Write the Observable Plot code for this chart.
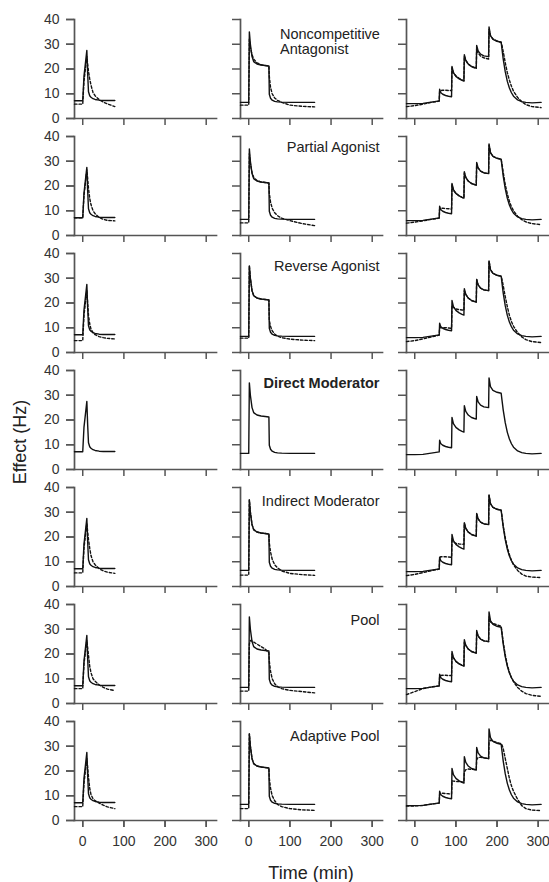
<!DOCTYPE html>
<html><head><meta charset="utf-8">
<script src="https://cdn.jsdelivr.net/npm/d3@7"></script>
<script src="https://cdn.jsdelivr.net/npm/@observablehq/plot@0.6"></script>
<style>
body{margin:0;background:#fff;}
#wrap{position:relative;width:549px;height:882px;font-family:"Liberation Sans",Arial,sans-serif;}
.ttl{position:absolute;font-size:18px;color:#222;white-space:nowrap;line-height:1;}
</style></head><body>
<div id="wrap"></div>
<script>
// Row (model) names; row 4 (Direct Moderator) has no dashed fit
const rowNames = ["Noncompetitive\nAntagonist","Partial Agonist","Reverse Agonist","Direct Moderator","Indirect Moderator","Pool","Adaptive Pool"];
const colKeys = [0, 1, 2];
const xTicks = [0, 100, 200, 300];
const yTicks = [0, 10, 20, 30, 40];

// Column 1 (single short pulse)
const T1 = [-20, 0, 3, 10, 12, 14, 17, 20, 25, 30, 40, 50, 60, 78];
const S1 = [7.2, 7.2, 17, 27.5, 18, 10.8, 9.2, 8.6, 8.0, 7.7, 7.4, 7.3, 7.3, 7.3];
const dashCol1 = [
  [5.8, 5.8, 15, 25, 22, 19, 16, 13.5, 10.5, 9.2, 7.6, 6.6, 5.9, 4.8],
  [7.2, 7.2, 16, 26.5, 23, 19, 15, 12.5, 10, 8.8, 7.3, 6.5, 6.1, 5.9],
  [4.8, 4.8, 15, 25, 20, 15, 11.5, 9.5, 8, 7.2, 6.4, 6, 5.7, 5.5],
  null,
  [5.5, 5.5, 15.5, 25.5, 22, 19, 15.5, 12.5, 10, 8.8, 7.2, 6.3, 5.8, 5.3],
  [6.0, 6.0, 16, 25.5, 22.5, 19.5, 15, 12.5, 10, 9.0, 7.5, 6.5, 5.8, 5.2],
  [5.6, 5.6, 15, 25, 21.5, 17.5, 13, 10.5, 8.8, 8.0, 7.0, 6.2, 5.5, 4.8]
];

// Column 2 (50-min step)
const T2 = [-20, 0, 1.5, 4, 8, 12, 20, 30, 40, 49, 50, 53, 57, 63, 70, 80, 100, 130, 160];
const S2 = [6.5, 6.5, 35, 30, 25, 23, 22, 21.6, 21.4, 21.2, 9.8, 8.2, 7.4, 6.9, 6.7, 6.6, 6.5, 6.5, 6.5];
const dashCol2 = [
  [5.4, 5.4, 32, 28.5, 25.8, 24, 22.5, 21.7, 21.4, 21.2, 17, 12.5, 10, 8.3, 7.3, 6.5, 5.4, 4.9, 4.7],
  [5.1, 5.1, 33, 29, 25.5, 23.5, 22.2, 21.6, 21.4, 21.2, 17, 13.5, 11, 9.2, 8, 7, 6, 4.8, 4.0],
  [5.8, 5.8, 35, 30, 25, 23, 22, 21.6, 21.4, 21.2, 13, 10.5, 8.8, 7.5, 6.6, 6, 5.4, 5, 4.8],
  null,
  [4.6, 4.6, 35, 30, 25, 23, 22, 21.6, 21.4, 21.2, 17.5, 14, 11, 8.8, 7.5, 6.3, 5.3, 4.8, 4.5],
  [5.0, 5.0, 24, 25.5, 25.2, 24.8, 24, 23, 22, 20.5, 17, 13, 10, 8, 6.8, 6, 5.3, 4.8, 4.3],
  [4.8, 4.8, 35, 30, 25, 23, 22, 21.6, 21.4, 21.2, 17, 13, 10, 8, 6.5, 5.6, 4.8, 4.3, 4.1]
];

// Column 3 (staircase of 5 steps)
const T3 = [-20, 0, 20, 40, 59.5, 60.5, 63, 68, 75, 82, 89.5, 90.5, 94, 100, 108, 115, 119.5, 120.5, 124, 130, 138, 145, 149.5, 150.5, 154, 160, 168, 179.5, 180.5, 184, 190, 200, 210, 212, 215, 220, 225, 230, 235, 240, 250, 260, 270, 285, 307];
const S3 = [6.0, 6.0, 6.1, 6.6, 7.1, 11.8, 10.5, 9.8, 9.3, 9.0, 8.8, 21.0, 18.5, 17.0, 16.0, 15.4, 15.1, 25.8, 23.5, 22.0, 21.0, 20.6, 20.4, 29.5, 27.3, 26.0, 25.3, 25.0, 37.0, 33.5, 32.0, 31.2, 30.8, 28.0, 24.0, 18.8, 15.0, 12.3, 10.4, 9.0, 7.5, 6.8, 6.5, 6.3, 6.5];
const dashCol3 = [
  [4.8, 5.2, 5.8, 6.5, 7.0, 11.0, 11.3, 11.4, 11.4, 11.3, 11.3, 20.5, 18.5, 17.2, 16.2, 15.6, 15.3, 25.2, 23.5, 22.0, 21.0, 20.5, 20.2, 28.5, 26.5, 25.2, 24.5, 24.0, 36.0, 33.5, 32.2, 31.3, 30.8, 29.5, 27.0, 22.5, 18.5, 15.5, 13.0, 11.0, 8.5, 6.8, 5.6, 4.8, 4.4],
  [5.0, 5.4, 5.9, 6.5, 7.0, 10.8, 11.0, 11.0, 10.9, 10.8, 10.7, 20.5, 18.3, 17.0, 16.0, 15.4, 15.1, 25.3, 23.5, 22.0, 21.0, 20.6, 20.4, 29.0, 27.3, 26.0, 25.3, 25.0, 36.5, 33.5, 32.0, 31.2, 30.8, 29.0, 25.5, 20.5, 16.8, 13.8, 11.6, 10.0, 7.8, 6.4, 5.5, 4.8, 4.4],
  [4.4, 4.8, 5.5, 6.3, 7.0, 10.0, 10.0, 10.0, 10.0, 9.9, 9.8, 19.0, 18.2, 17.6, 17.3, 17.2, 17.0, 25.0, 23.5, 22.0, 21.0, 20.6, 20.4, 29.5, 27.3, 26.0, 25.3, 25.0, 37.0, 33.5, 32.0, 31.2, 30.8, 29.5, 27.0, 22.5, 18.5, 15.0, 12.5, 10.6, 8.0, 6.3, 5.2, 4.4, 4.0],
  null,
  [4.4, 4.9, 5.6, 6.4, 7.0, 11.5, 12.0, 12.0, 12.0, 11.9, 11.8, 19.5, 18.0, 17.4, 17.2, 17.1, 17.0, 25.5, 23.5, 22.0, 21.0, 20.6, 20.4, 29.3, 27.3, 26.0, 25.3, 25.0, 36.8, 33.5, 32.0, 31.2, 30.8, 28.5, 24.6, 19.6, 15.9, 12.8, 10.5, 8.8, 6.5, 5.0, 4.2, 3.8, 3.6],
  [3.6, 4.8, 6.0, 6.7, 7.1, 11.0, 11.3, 11.4, 11.4, 11.3, 11.3, 20.0, 18.5, 17.0, 16.0, 15.5, 15.2, 24.8, 23.5, 22.0, 21.0, 20.6, 20.4, 28.8, 27.2, 26.0, 25.3, 25.0, 35.0, 33.0, 32.3, 31.8, 31.2, 28.8, 24.8, 19.6, 15.6, 12.6, 10.4, 8.8, 6.5, 5.0, 4.0, 3.3, 2.9],
  [5.8, 5.9, 6.1, 6.6, 7.0, 10.5, 11.0, 11.0, 10.9, 10.8, 10.7, 16.0, 15.9, 15.8, 15.7, 15.6, 15.5, 19.5, 20.5, 20.8, 20.7, 20.6, 20.5, 24.5, 25.5, 25.5, 25.3, 25.0, 31.5, 32.5, 32.0, 31.5, 31.0, 30.5, 29.0, 25.0, 21.0, 17.0, 14.0, 11.8, 8.5, 6.0, 4.8, 4.2, 4.0]
];

const times = [T1, T2, T3];
const solids = [S1, S2, S3];
const dashes = [dashCol1, dashCol2, dashCol3];

const modelRows = [];
const fitRows = [];
rowNames.forEach((row, r) => {
  colKeys.forEach(c => {
    times[c].forEach((t, i) => modelRows.push({row, col: c, t, v: solids[c][i]}));
    const d = dashes[c][r];
    if (d) times[c].forEach((t, i) => fitRows.push({row, col: c, t, v: d[i]}));
  });
});

const axisStroke = "#555";
const labelColor = "#222";
// per-panel label vertical offsets (px below the panel top)
const labelDy = [8, 4, 6, 6.5, 7.5, 9.5, 8.5];

const labelMarks = rowNames.map((name, i) => Plot.text([name], {
  text: d => d, fy: d => d, fx: () => 1,
  frameAnchor: i === 0 ? "top-left" : "top-right",
  textAnchor: i === 0 ? "start" : "end",
  lineAnchor: "top",
  dx: i === 0 ? 39.5 : -3,
  dy: labelDy[i],
  fontSize: 14.5,
  lineHeight: 1.08,
  fontWeight: i === 3 ? "bold" : "normal",
  fill: labelColor
}));

const chart = Plot.plot({
  width: 549,
  height: 882,
  marginTop: 16.7,
  marginBottom: 59,
  marginLeft: 73,
  marginRight: 0,
  style: {fontFamily: "'Liberation Sans', Arial, sans-serif", fontSize: "14px", color: "#333", background: "#fff"},
  fx: {domain: colKeys, paddingInner: 0.143, paddingOuter: 0, axis: null},
  fy: {domain: rowNames, paddingInner: 0.15, paddingOuter: 0, axis: null},
  x: {domain: [-20, 325]},
  y: {domain: [0, 40]},
  marks: [
    Plot.axisY({ticks: yTicks, tickSize: 8, tickFormat: () => "", facetAnchor: null, stroke: axisStroke, strokeWidth: 1.5, label: null}),
    Plot.axisY({ticks: yTicks, tickSize: 8, tickPadding: 7, facetAnchor: "left", stroke: axisStroke, strokeWidth: 1.5, label: null}),
    Plot.axisX({ticks: xTicks, tickSize: 7, tickFormat: () => "", facetAnchor: null, stroke: axisStroke, strokeWidth: 1.5, label: null}),
    Plot.axisX({ticks: xTicks, tickSize: 7, tickPadding: 9, facetAnchor: "bottom", stroke: axisStroke, strokeWidth: 1.5, label: null}),
    Plot.frame({anchor: "left", stroke: axisStroke, strokeWidth: 1.7}),
    Plot.frame({anchor: "bottom", stroke: axisStroke, strokeWidth: 1.7}),
    Plot.line(fitRows, {x: "t", y: "v", fx: "col", fy: "row", stroke: "#111", strokeWidth: 1.4, strokeDasharray: "2.5,2"}),
    Plot.line(modelRows, {x: "t", y: "v", fx: "col", fy: "row", stroke: "#111", strokeWidth: 1.4}),
    ...labelMarks
  ]
});

const wrap = document.getElementById("wrap");
wrap.appendChild(chart);
const xt = document.createElement("div");
xt.className = "ttl";
xt.textContent = "Time (min)";
xt.style.left = "311px"; xt.style.top = "873px"; xt.style.transform = "translate(-50%,-50%)";
wrap.appendChild(xt);
const yt = document.createElement("div");
yt.className = "ttl";
yt.textContent = "Effect (Hz)";
yt.style.left = "20px"; yt.style.top = "442px"; yt.style.transform = "translate(-50%,-50%) rotate(-90deg)";
wrap.appendChild(yt);
</script>
</body></html>
